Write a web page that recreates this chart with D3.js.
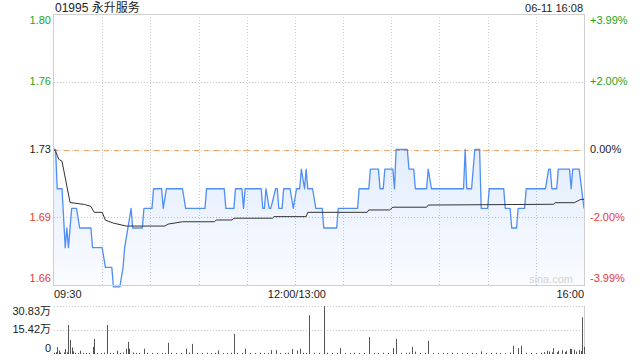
<!DOCTYPE html>
<html><head><meta charset="utf-8">
<script src="https://cdn.jsdelivr.net/npm/d3@7"></script>
<style>body{margin:0;background:#fff}svg{display:block}text{font-family:"Liberation Sans","Noto Sans CJK SC",Arial,sans-serif}</style>
</head><body><svg id="c" width="640" height="360"></svg>
<script>
const title = "01995 永升服务";
const stamp = "06-11 16:08";
const preClose = 1.73;
const pctRange = 0.0399;

const priceTimes = ["09:30","09:31","09:32","09:35","09:37","09:38","09:39","09:41","09:44","09:46",
 "09:53","09:54","10:00","10:02","10:06","10:07","10:11","10:13","10:14","10:16",
 "10:18","10:19","10:25","10:26","10:31","10:32","10:37","10:38","10:40","10:50",
 "10:52","11:04","11:05","11:16","11:17","11:22","11:23","11:27","11:28","11:29",
 "11:39","11:40","11:41","11:42","11:44","11:45","11:48","11:49","11:50","11:52",
 "11:53","11:57","11:59","13:01","13:03","13:04","13:06","13:07","13:08","13:11",
 "13:13","13:17","13:18","13:26","13:27","13:39","13:40","13:46","13:47","13:52",
 "13:53","13:55","13:56","14:01","14:02","14:03","14:10","14:11","14:14","14:15",
 "14:22","14:23","14:25","14:45","14:46","14:47","14:50","14:52","14:55","14:56",
 "15:00","15:01","15:10","15:11","15:14","15:15","15:18","15:19","15:23","15:24",
 "15:36","15:38","15:39","15:40","15:43","15:44","15:51","15:52","15:53","15:57",
 "16:00"];
const priceValues = [1.73,1.73,1.71,1.71,1.68,1.69,1.68,1.70,1.70,1.69,
 1.69,1.68,1.68,1.67,1.67,1.66,1.66,1.67,1.68,1.69,
 1.70,1.69,1.69,1.70,1.70,1.71,1.71,1.70,1.71,1.71,
 1.70,1.70,1.71,1.71,1.70,1.70,1.71,1.71,1.70,1.71,
 1.71,1.70,1.70,1.71,1.70,1.70,1.71,1.71,1.70,1.70,
 1.71,1.71,1.70,1.71,1.71,1.72,1.71,1.72,1.71,1.71,
 1.70,1.70,1.69,1.69,1.70,1.70,1.71,1.71,1.72,1.72,
 1.71,1.71,1.72,1.72,1.71,1.73,1.73,1.72,1.72,1.71,
 1.71,1.72,1.71,1.71,1.73,1.71,1.71,1.73,1.73,1.70,
 1.70,1.71,1.71,1.70,1.70,1.69,1.69,1.70,1.70,1.71,
 1.71,1.72,1.72,1.71,1.71,1.72,1.72,1.71,1.72,1.72,
 1.70];

const avgTimes = ["09:30","09:31","09:33","09:35","09:40","09:49","09:53","09:55","10:00","10:02",
 "10:07","10:15","10:39","10:41","10:50","11:10","11:11","11:21","11:22","11:46",
 "11:47","13:07","13:08","13:45","13:46","13:59","14:01","14:22","14:23","15:41",
 "15:42","15:54","15:58","16:00"];
const avgValues = [1.730,1.729,1.725,1.724,1.703,1.702,1.701,1.698,1.698,1.694,
 1.6925,1.691,1.691,1.692,1.6932,1.6932,1.6941,1.6941,1.695,1.695,
 1.6958,1.6958,1.698,1.698,1.6992,1.6992,1.7006,1.7006,1.7017,1.7021,
 1.7029,1.7029,1.7046,1.7046];

// volume in 万
const volTimes = ["09:30","09:31","09:32","09:33","09:34","09:36","09:37","09:38","09:39","09:40",
 "09:41","09:42","09:43","09:45","09:46","09:48","09:50","09:52","09:54","09:55",
 "09:57","09:59","10:01","10:03","10:05","10:07","10:09","10:11","10:13","10:15",
 "10:16","10:17","10:19","10:21","10:23","10:26","10:28","10:31","10:34","10:37",
 "10:39","10:41","10:43","10:46","10:49","10:52","10:54","10:56","10:59","11:02",
 "11:05","11:08","11:10","11:12","11:15","11:18","11:20","11:22","11:24","11:27",
 "11:29","11:32","11:35","11:38","11:41","11:43","11:45","11:48","11:51","11:54",
 "11:56","11:58","13:01","13:03","13:05","13:07","13:09","13:12","13:15","13:18",
 "13:20","13:23","13:26","13:28","13:31","13:34","13:37","13:40","13:43","13:46",
 "13:49","13:52","13:55","13:58","14:01","14:03","14:06","14:09","14:11","14:13",
 "14:15","14:18","14:21","14:23","14:26","14:29","14:32","14:35","14:38","14:41",
 "14:44","14:47","14:50","14:53","14:56","14:59","15:02","15:05","15:08","15:11",
 "15:14","15:16","15:19","15:21","15:24","15:27","15:30","15:33","15:35","15:37",
 "15:38","15:40","15:41","15:43","15:44","15:46","15:48","15:49","15:51","15:52",
 "15:54","15:55","15:57","15:58","15:59","16:00"];
const volValues = [0.8,1.2,4.4,2.3,0.9,1.0,3.2,1.1,18.6,9.1,
 4.2,1.7,0.8,0.6,2.1,0.7,0.5,0.8,4.6,9.7,
 0.7,0.6,0.9,18.6,0.8,0.6,2.1,0.7,0.9,3.4,
 7.8,3.4,1.0,0.7,0.6,3.4,0.8,0.7,0.6,0.7,
 0.6,7.2,0.8,0.6,0.7,3.4,0.9,6.5,0.7,0.6,
 0.8,0.6,0.7,2.3,0.6,0.7,0.8,12.9,0.7,0.6,
 3.4,0.7,0.6,0.8,0.6,0.7,2.5,2.5,0.7,0.6,
 0.8,3.2,2.3,3.4,0.8,0.7,24.9,0.8,0.7,30.83,
 0.8,0.7,0.6,3.8,0.7,0.6,0.8,0.6,0.7,11.0,
 0.7,0.6,0.8,0.7,3.8,9.7,0.8,0.7,0.9,4.6,
 1.5,0.7,0.6,8.4,0.7,0.6,0.7,0.6,0.8,0.6,
 0.7,0.6,0.7,0.6,1.7,0.7,0.6,0.8,0.7,0.6,
 0.9,5.3,3.8,5.3,0.8,0.7,0.6,0.8,1.2,2.1,
 1.7,1.0,3.8,1.2,2.1,2.5,1.3,2.1,3.4,3.2,
 2.8,1.5,2.5,1.9,23.6,4.6];

const leftTickLabels = ["1.80","1.76","1.73","1.69","1.66"];
const rightTickLabels = ["+3.99%","+2.00%","0.00%","-2.00%","-3.99%"];
const tickPcts = [0.0399,0.02,0,-0.02,-0.0399];
const xTickLabels = ["09:30","12:00/13:00","16:00"];
const volTickLabels = ["30.83万","15.42万","0"];
const volTickValues = [30.83,15.42,0];

function toMin(t){
  const [h,m]=t.split(":").map(Number);
  const tot=h*60+m;
  return tot<=720 ? tot-570 : 150+(tot-780);
}

const svg=d3.select("#c");
const L=54,R=584,T=14,B=285;
const VT=306,VB=354;
const x=d3.scaleLinear().domain([0,330]).range([L,R]);
const y=d3.scaleLinear().domain([preClose*(1-pctRange),preClose*(1+pctRange)]).range([B,T]);
const yv=d3.scaleLinear().domain([0,30.83]).range([VB,VT]);
const GREEN="#1ea51e",RED="#e8383a",BLACK="#222";
const colorFor=p=>p>0?GREEN:(p<0?RED:BLACK);

// gradient
const defs=svg.append("defs");
const g=defs.append("linearGradient").attr("id","ag").attr("x1",0).attr("x2",0).attr("y1",0).attr("y2",1);
g.append("stop").attr("offset","0%").attr("stop-color","#4d8cf5").attr("stop-opacity",0.16);
g.append("stop").attr("offset","100%").attr("stop-color","#4d8cf5").attr("stop-opacity",0.03);

// title / stamp
svg.append("text").attr("x",55).attr("y",11.5).attr("font-size",12).attr("fill","#222").text(title);
svg.append("text").attr("x",583).attr("y",11.5).attr("font-size",11).attr("text-anchor","end").attr("fill","#222").text(stamp);

// gridlines
const vMins=d3.range(30,330,30);
svg.append("g").selectAll("line").data(vMins).join("line")
  .attr("x1",d=>Math.round(x(d))+0.5).attr("x2",d=>Math.round(x(d))+0.5)
  .attr("y1",T).attr("y2",B).attr("stroke","#c8c8c8").attr("stroke-dasharray","1,2");
svg.append("g").selectAll("line").data([0.02,0,-0.02]).join("line")
  .attr("x1",L).attr("x2",R)
  .attr("y1",d=>Math.round(y(preClose*(1+d)))+0.5).attr("y2",d=>Math.round(y(preClose*(1+d)))+0.5)
  .attr("stroke","#c8c8c8").attr("stroke-dasharray","1,2");
svg.append("line").attr("x1",L).attr("x2",R)
  .attr("y1",Math.round(y(preClose))+0.5).attr("y2",Math.round(y(preClose))+0.5)
  .attr("stroke","#f2a46e").attr("stroke-dasharray","5,5").attr("stroke-width",1);

// price data
const pts=priceTimes.map((t,i)=>({m:toMin(t),p:priceValues[i]}));
const avg=avgTimes.map((t,i)=>({m:toMin(t),p:avgValues[i]}));
const area=d3.area().x(d=>x(d.m)).y0(B).y1(d=>y(d.p));
svg.append("path").datum(pts).attr("d",area).attr("fill","url(#ag)");
svg.append("path").datum(pts).attr("d",d3.line().x(d=>x(d.m)).y(d=>y(d.p)))
  .attr("fill","none").attr("stroke","#4f8ef5").attr("stroke-width",1.3).attr("stroke-linejoin","round");
svg.append("path").datum(avg).attr("d",d3.line().x(d=>x(d.m)).y(d=>y(d.p)))
  .attr("fill","none").attr("stroke","#333").attr("stroke-width",1);

// watermark
svg.append("text").attr("x",573).attr("y",283).attr("text-anchor","end").attr("font-size",11).attr("fill","#d4d4d4").text("sina.com");

// border
svg.append("rect").attr("x",L-0.5).attr("y",T+0.5).attr("width",R-L+1).attr("height",B-T).attr("fill","none").attr("stroke","#cfcfcf");

// axis labels
tickPcts.forEach((p,i)=>{
  let yy=y(preClose*(1+p));
  if(i===0) yy=T+6; if(i===tickPcts.length-1) yy=B-7;
  svg.append("text").attr("x",51).attr("y",yy).attr("dy","0.35em").attr("text-anchor","end")
    .attr("font-size",11).attr("fill",colorFor(p)).text(leftTickLabels[i]);
  svg.append("text").attr("x",590).attr("y",yy).attr("dy","0.35em")
    .attr("font-size",11).attr("fill",colorFor(p)).text(rightTickLabels[i]);
});
const xPos=[{m:0,a:"start",dx:0},{m:150,a:"middle",dx:2},{m:330,a:"end",dx:0}];
xPos.forEach((d,i)=>{
  svg.append("text").attr("x",x(d.m)+d.dx).attr("y",294).attr("dy","0.35em").attr("text-anchor",d.a)
    .attr("font-size",11).attr("fill","#222").text(xTickLabels[i]);
});

// volume panel
svg.append("g").selectAll("line").data([30.83,15.42]).join("line")
  .attr("x1",L).attr("x2",R).attr("y1",d=>Math.round(yv(d))+0.5).attr("y2",d=>Math.round(yv(d))+0.5)
  .attr("stroke","#c8c8c8").attr("stroke-dasharray","1,2");
svg.append("line").attr("x1",R+0.5).attr("x2",R+0.5).attr("y1",VT).attr("y2",VB).attr("stroke","#cfcfcf");
const vols=volTimes.map((t,i)=>({m:toMin(t),v:volValues[i]}));
svg.append("g").selectAll("line").data(vols).join("line")
  .attr("x1",d=>Math.round(x(d.m))+0.5).attr("x2",d=>Math.round(x(d.m))+0.5)
  .attr("y1",VB).attr("y2",d=>Math.min(VB-1,yv(d.v)))
  .attr("stroke","#555").attr("stroke-width",1);
const vLabY=[311,329,348];
volTickValues.forEach((v,i)=>{
  svg.append("text").attr("x",51).attr("y",vLabY[i]).attr("dy","0.35em").attr("text-anchor","end")
    .attr("font-size",11).attr("fill","#222").text(volTickLabels[i]);
});
</script></body></html>
